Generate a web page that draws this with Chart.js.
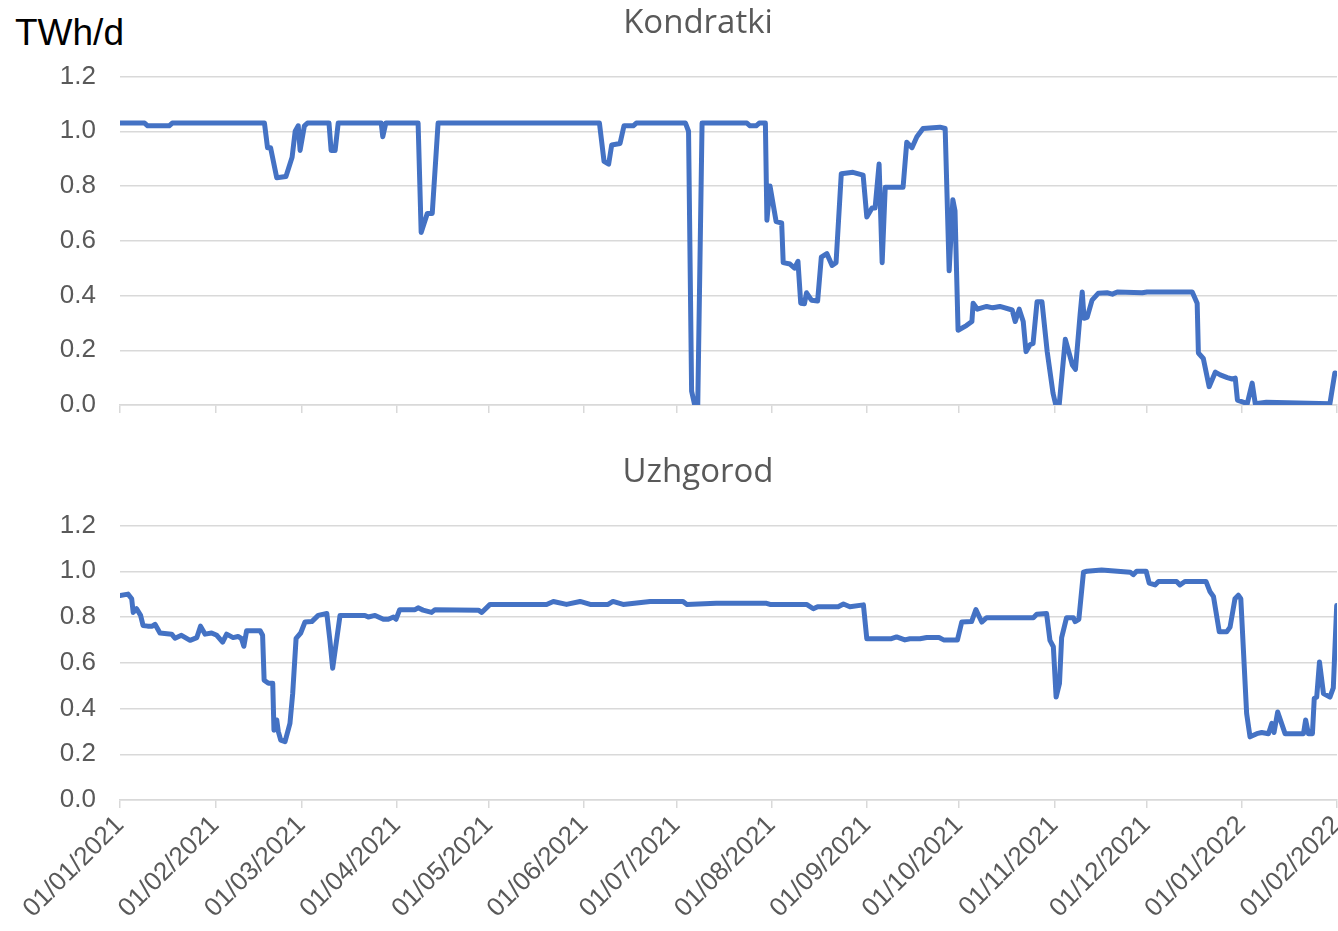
<!DOCTYPE html>
<html>
<head>
<meta charset="utf-8">
<script src="https://cdn.jsdelivr.net/npm/chart.js@4.4.1/dist/chart.umd.min.js"></script>
<style>
  html, body { margin: 0; padding: 0; background: #ffffff; }
  body { width: 1338px; height: 931px; position: relative; overflow: hidden; }
  #unit { position: absolute; left: 15px; top: 15px; font-family: "Liberation Sans", Arial, sans-serif; font-size: 37px; line-height: 36px; color: #000; }
  #c1 { position: absolute; left: 0; top: 0; }
  #c2 { position: absolute; left: 0; top: 440px; }
</style>
</head>
<body>
<div id="unit">TWh/d</div>
<canvas id="c1" width="1338" height="421"></canvas>
<canvas id="c2" width="1338" height="491"></canvas>
<script>
// ---- Data (day offset from 01/01/2021, value in TWh/d) ----
const monthStartDays = [0, 31, 59, 90, 120, 151, 181, 212, 243, 273, 304, 334, 365, 396];
const tickLabels = ['01/01/2021','01/02/2021','01/03/2021','01/04/2021','01/05/2021','01/06/2021','01/07/2021','01/08/2021','01/09/2021','01/10/2021','01/11/2021','01/12/2021','01/01/2022','01/02/2022'];
const yTicks = [0, 0.2, 0.4, 0.6, 0.8, 1.0, 1.2];

const kondratkiDays = [0,8,9,16,17,47,48,49,51,54,56,57,58,58.6,60,61,68,68.7,70,71,85,85.5,86.5,97,98,100,101.6,103.5,156,157.5,159,160,162.7,164,167,168,184,185,186,187,188,189.4,204,205,207,208,210,210.5,211.5,213.5,215.3,215.8,218,219.5,220.6,221.5,222.7,223.4,225,227,228.2,230,231.7,233,234.7,238.5,241.8,243,244.7,245.7,247,248,249,254.8,256,257.7,259.3,261.3,266.8,268.5,269.8,271,271.7,272.7,275.4,277.2,277.6,279,282,284,286.3,290.3,291.3,292.6,293.9,294.8,296.1,297.1,298.4,300,301.7,303.6,304.5,305.6,307.6,309.9,310.9,312.4,313.1,313.7,314.7,316.3,318.3,321.2,322.9,324.5,332.6,334.2,348.9,350.5,350.9,352.5,354.4,356.4,358,360.3,361.9,362.9,363.6,366.8,368.4,369.4,373,393.7,395.3,396];
const kondratkiValues = [1.03,1.03,1.02,1.02,1.03,1.03,0.94,0.94,0.83,0.835,0.905,1.0,1.02,0.93,1.02,1.03,1.03,0.93,0.93,1.03,1.03,0.98,1.03,1.03,0.63,0.70,0.70,1.03,1.03,0.89,0.88,0.95,0.955,1.02,1.02,1.03,1.03,1.0,0.05,0.0,0.0,1.03,1.03,1.02,1.02,1.03,1.03,0.675,0.80,0.67,0.665,0.52,0.515,0.50,0.525,0.372,0.37,0.41,0.383,0.38,0.54,0.553,0.51,0.52,0.845,0.85,0.84,0.687,0.72,0.72,0.88,0.52,0.795,0.795,0.96,0.94,0.98,1.01,1.015,1.01,0.49,0.75,0.71,0.273,0.29,0.305,0.372,0.35,0.36,0.355,0.36,0.347,0.305,0.35,0.305,0.195,0.22,0.225,0.377,0.377,0.195,0.043,0.0,0.0,0.24,0.146,0.13,0.33,0.413,0.317,0.32,0.383,0.408,0.41,0.405,0.413,0.41,0.413,0.413,0.372,0.19,0.17,0.067,0.12,0.11,0.10,0.095,0.098,0.018,0.005,0.08,0.005,0.01,0.005,0.117,0.115];

const uzhgorodDays = [0,2.6,3.8,4.3,5.4,6.7,7.5,9,10.5,11.4,13,16.8,17.9,20,22.8,25,26.2,27.7,29.8,31.5,33.4,34.7,36.8,38.4,39.5,40.3,41.2,45.6,46.4,46.9,48.3,49.7,50.1,51,51.5,52.3,53.7,55.3,56.2,57.3,58.8,60.2,62.4,64.5,67.3,68.3,69.2,71.6,79.7,80.8,83,85.7,87.3,89,89.8,91,96,97,98.6,101.4,102.5,116.6,117.7,120.4,138.8,141,145.3,149.7,153,158.8,160.4,163.7,172.5,183.2,184.4,194,210.4,211.5,223.4,225.6,227,233.7,235.4,237.5,241.9,243,251,252.7,255.4,257,260.3,262.5,266.5,268,272.5,273.9,277.1,278.5,280.4,282,297.2,298.3,301.5,302.6,303.7,304.6,305.7,306.4,308,310.2,310.8,312,313.5,314.6,319.4,328.7,329.7,330.8,333.9,334.9,336.8,337.9,343.8,344.9,346.5,353.4,354.7,355.8,357.7,360.1,361.2,362.8,363.9,364.7,366.6,367.7,369.9,371.5,373.7,374.8,375.5,376.7,379.1,385.1,385.8,386.7,388,388.6,389.4,390.3,391.6,393.7,394.8,395.9];
const uzhgorodValues = [0.894,0.90,0.88,0.82,0.836,0.807,0.763,0.76,0.76,0.768,0.73,0.725,0.707,0.72,0.698,0.71,0.76,0.725,0.73,0.72,0.69,0.725,0.71,0.715,0.706,0.672,0.74,0.74,0.72,0.524,0.51,0.51,0.305,0.35,0.30,0.262,0.255,0.335,0.467,0.707,0.73,0.778,0.78,0.807,0.815,0.698,0.576,0.807,0.807,0.80,0.807,0.79,0.79,0.80,0.79,0.832,0.832,0.84,0.83,0.82,0.832,0.83,0.82,0.855,0.855,0.868,0.855,0.868,0.855,0.855,0.868,0.855,0.868,0.868,0.855,0.86,0.86,0.855,0.855,0.836,0.845,0.845,0.857,0.845,0.853,0.705,0.705,0.713,0.70,0.705,0.705,0.71,0.71,0.70,0.70,0.778,0.78,0.832,0.778,0.797,0.797,0.812,0.815,0.698,0.67,0.45,0.51,0.71,0.797,0.797,0.78,0.79,0.996,1.0,1.005,0.996,0.985,1.0,1.0,0.948,0.94,0.955,0.955,0.94,0.955,0.955,0.91,0.89,0.735,0.735,0.756,0.88,0.895,0.88,0.378,0.276,0.29,0.295,0.29,0.335,0.295,0.385,0.29,0.29,0.35,0.29,0.29,0.444,0.45,0.603,0.465,0.45,0.49,0.85];

// ---- Chart building ----
const GRID = '#d9d9d9';
const TXT = '#595959';
const LINE = '#4472C4';

function toPoints(days, vals) { return days.map((d, i) => ({ x: d, y: vals[i] })); }

function makeChart(canvasId, title, days, vals, opts) {
  return new Chart(document.getElementById(canvasId), {
    type: 'line',
    data: {
      datasets: [{
        label: title,
        data: toPoints(days, vals),
        borderColor: LINE,
        borderWidth: 5,
        pointRadius: 0,
        tension: 0,
        borderJoinStyle: 'round',
        borderCapStyle: 'round',
        fill: false
      }]
    },
    options: {
      responsive: false,
      animation: false,
      devicePixelRatio: 1,
      layout: { padding: { left: 59, right: 1, top: 0, bottom: 0 } },
      plugins: {
        legend: { display: false },
        tooltip: { enabled: false },
        title: {
          display: true,
          text: title,
          color: TXT,
          font: { family: '"Open Sans", sans-serif', size: 33, weight: 'normal', lineHeight: 1.2 },
          padding: { top: opts.titleTop, bottom: opts.titleBottom }
        }
      },
      scales: {
        x: {
          type: 'linear',
          min: monthStartDays[0],
          max: monthStartDays[monthStartDays.length - 1],
          afterBuildTicks: (scale) => { scale.ticks = monthStartDays.map(v => ({ value: v })); },
          afterFit: (scale) => { scale.height = opts.xHeight; scale.paddingLeft = 0; scale.paddingRight = 0; },
          grid: { drawOnChartArea: false, drawTicks: true, tickLength: 8, color: GRID, lineWidth: 1.5 },
          border: { display: true, color: GRID, width: 1.5 },
          ticks: {
            display: opts.showX,
            autoSkip: false,
            maxRotation: 45,
            minRotation: 45,
            padding: 2,
            color: TXT,
            font: { family: '"Liberation Sans", Arial, sans-serif', size: 26 },
            callback: (v, i) => tickLabels[i]
          }
        },
        y: {
          min: 0,
          max: 1.2,
          afterBuildTicks: (scale) => { scale.ticks = yTicks.map(v => ({ value: v })); },
          afterFit: (scale) => { scale.width = 61; },
          grid: { drawTicks: true, tickLength: 24, tickColor: 'rgba(0,0,0,0)', color: GRID, lineWidth: 1.5 },
          border: { display: false },
          ticks: {
            padding: 0,
            color: TXT,
            font: { family: '"Liberation Sans", Arial, sans-serif', size: 26 },
            callback: (v) => Number(v).toFixed(1)
          }
        }
      }
    }
  });
}

makeChart('c1', 'Kondratki', kondratkiDays, kondratkiValues, { titleTop: 4.2, titleBottom: 32.7, xHeight: 16, showX: false });
makeChart('c2', 'Uzhgorod', uzhgorodDays, uzhgorodValues, { titleTop: 13.2, titleBottom: 32.7, xHeight: 131, showX: true });
</script>
</body>
</html>
